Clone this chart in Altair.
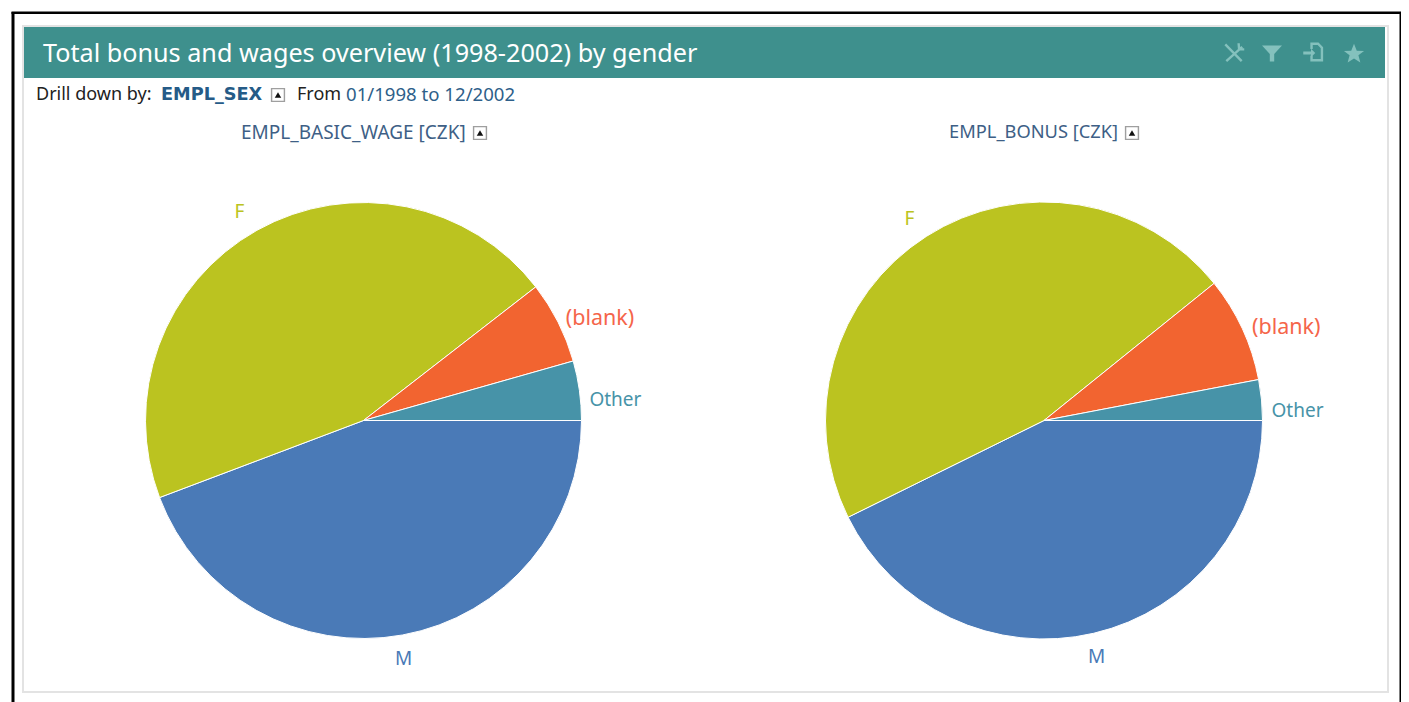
import math
import altair as alt
import pandas as pd

categories = ["M", "F", "(blank)", "Other"]
basic_wage = [44.25, 45.25, 6.1, 4.4]
bonus = [42.7, 46.5, 7.8, 3.0]
slice_colors = ["#4A7AB7", "#BBC320", "#F26430", "#4793A8"]
label_colors = ["#4A7AB7", "#BBC320", "#F5654A", "#4793A8"]
label_sizes = [19, 19, 21.5, 19]

FONT = "Noto Sans"
OX, OY = 8, 8
def X(v): return alt.value(v - OX)
def Y(v): return alt.value(v - OY)

rows = []
for pie, vals in (("wage", basic_wage), ("bonus", bonus)):
    for i, (c, v) in enumerate(zip(categories, vals)):
        rows.append({"pie": pie, "cat": c, "ord": i, "value": v})
df = pd.DataFrame(rows)
one = pd.DataFrame({"k": [0]})

theta_scale = alt.Scale(domain=[0, 100], range=[math.pi / 2, math.pi / 2 + 2 * math.pi])
color_scale = alt.Scale(domain=categories, range=slice_colors)
base = alt.Chart(df).transform_stack(
    stack="value", groupby=["pie"], as_=["a0", "a1"],
    sort=[alt.SortField("ord", order="ascending")],
).transform_calculate(mid="(datum.a0 + datum.a1) / 2")


def rect(x1, y1, x2, y2, **kw):
    return alt.Chart(one).mark_rect(**kw).encode(x=X(x1), x2=X(x2), y=Y(y1), y2=Y(y2))


def text(s, x, y, size=18, color="#222222", align="left", weight="normal", font=FONT):
    return alt.Chart(pd.DataFrame({"t": [s]})).mark_text(
        font=font, fontSize=size, color=color, align=align, baseline="middle", fontWeight=weight
    ).encode(x=X(x), y=Y(y), text="t:N")


def arrow_box(x, y):
    box = alt.Chart(one).mark_point(shape="square", size=165, filled=False, stroke="#777777", strokeWidth=1.4).encode(x=X(x), y=Y(y))
    tri = alt.Chart(one).mark_point(shape="triangle-up", size=42, filled=True, color="#111111", opacity=1).encode(x=X(x), y=Y(y))
    return box + tri


def icon(path, x, y, size, filled=True):
    kw = dict(fill="#84C1BD", strokeWidth=0, opacity=1) if filled else dict(fill=None, stroke="#84C1BD", strokeWidth=2.4, opacity=1)
    return alt.Chart(one).mark_point(shape=path, size=size, filled=filled, **kw).encode(x=X(x), y=Y(y))


def pie(name, cx, cy, r, offsets):
    sub = base.transform_filter(alt.datum.pie == name)
    layers = [sub.mark_arc(radius=r, stroke="#FFFFFF", strokeWidth=1).encode(
        theta=alt.Theta("a0:Q", scale=theta_scale),
        theta2="a1:Q",
        color=alt.Color("cat:N", scale=color_scale, legend=None),
        x=X(cx), y=Y(cy),
        tooltip=["cat:N", "value:Q"],
    )]
    for c, col, fs in zip(categories, label_colors, label_sizes):
        dx, dy = offsets[c]
        layers.append(sub.transform_filter(alt.datum.cat == c).mark_text(
            radius=r, font=FONT, fontSize=fs, color=col, dx=dx, dy=dy, align="center", baseline="middle"
        ).encode(theta=alt.Theta("mid:Q", scale=theta_scale), x=X(cx), y=Y(cy), text="cat:N"))
    return layers


wage_off = {"M": (1, 24.5), "F": (-17.5, -18), "(blank)": (42, -3), "Other": (36, 10)}
bonus_off = {"M": (3, 24), "F": (-17, -17), "(blank)": (44, -1), "Other": (36, 11)}

STAR = "M0,-1 L0.27,-0.32 L0.98,-0.3 L0.43,0.13 L0.62,0.82 L0,0.43 L-0.62,0.82 L-0.43,0.13 L-0.98,-0.3 L-0.27,-0.32 Z"
FUNNEL = "M-1,-0.75 L1,-0.75 L0.22,0.1 L0.22,0.85 L-0.22,0.85 L-0.22,0.1 Z"
DOC = "M-0.4,-0.35 L-0.4,-0.95 L0.35,-0.95 L0.8,-0.5 L0.8,0.95 L-0.4,0.95 L-0.4,0.4"
ARROW = "M-1,-0.18 L0,-0.18 L0,-0.55 L0.55,0 L0,0.55 L0,0.18 L-1,0.18 Z"
WRENCH = "M-0.85,-0.85 L0.75,0.8 M0.8,-0.6 L-0.75,0.8 M0.45,-0.95 L0.5,-0.35 L1,-0.35"

layers = [
    # page frame
    rect(11.5, 12, 14.5, 702, color="#000000"),
    rect(11.5, 11.5, 1402, 14, color="#000000"),
    rect(1399.5, 12, 1402, 702, color="#000000"),
    # panel
    rect(23, 26, 1388, 692, fill="#FFFFFF", stroke="#E3E3E3", strokeWidth=2),
    rect(24, 27, 1385, 78, color="#3E908D"),
    text("Total bonus and wages overview (1998-2002) by gender", 43, 54, size=25.2, color="#FFFFFF"),
    icon(WRENCH, 1234, 53, 420, filled=False),
    icon(FUNNEL, 1272, 53, 400),
    icon(DOC, 1315, 52, 300, filled=False),
    icon(ARROW, 1311, 53, 240),
    icon(STAR, 1354, 54, 420),
    text("Drill down by:", 36, 95),
    text("EMPL_SEX", 161, 95, size=17.7, color="#255B87", weight="bold", font="DejaVu Sans"),
    arrow_box(278, 95),
    text("From", 297, 95),
    text("01/1998 to 12/2002", 346, 95, size=18.6, color="#2E5F8A"),
    text("EMPL_BASIC_WAGE [CZK]", 241, 133, size=19, color="#3E5F86"),
    arrow_box(480, 133),
    text("EMPL_BONUS [CZK]", 949, 133, size=18.3, color="#3E5F86"),
    arrow_box(1132, 133),
]
layers += pie("wage", 363.5, 420.5, 218, wage_off)
layers += pie("bonus", 1044, 420.5, 218.5, bonus_off)

chart = alt.layer(*layers).resolve_scale(color="shared", theta="shared").properties(
    width=1393, height=694, padding=0, background="#FFFFFF",
    autosize=alt.AutoSizeParams(type="none"),
).configure_view(stroke=None).configure_axis(disable=True)

chart.save("out.html", embed_options={"renderer": "svg", "actions": False})
